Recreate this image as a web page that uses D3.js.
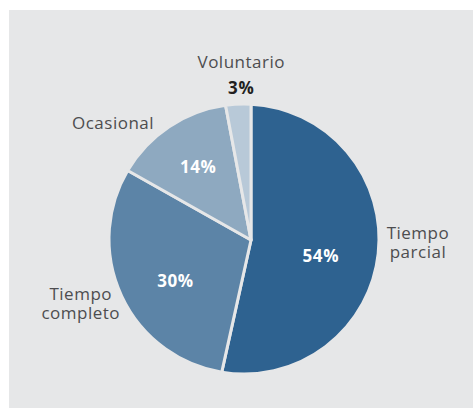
<!DOCTYPE html>
<html><head><meta charset="utf-8">
<script src="https://cdn.jsdelivr.net/npm/d3@7"></script>
<style>
html,body{margin:0;padding:0;background:#fff;}
svg{display:block;}
</style></head>
<body>
<svg id="chart" width="473" height="408"></svg>
<script>
const categories = ["Tiempo parcial", "Tiempo completo", "Ocasional", "Voluntario"];
const labelLines = [["Tiempo", "parcial"], ["Tiempo", "completo"], ["Ocasional"], ["Voluntario"]];
const values = [54, 30, 14, 3];
const valueLabels = ["54%", "30%", "14%", "3%"];
const colors = ["#2e6290", "#5c84a7", "#8ea9c0", "#b8c9d8"];

const svg = d3.select("#chart");
svg.append("rect").attr("x", 9).attr("y", 10).attr("width", 464).attr("height", 398).attr("fill", "#e6e7e8");

// apex where slices meet, and the outline circle (slightly offset from apex, as in the original)
const ax = 251, ay = 240, r = 135;
const off = [-7, -1];
const g = svg.append("g").attr("transform", `translate(${ax},${ay})`);

const pie = d3.pie().sort(null).value(d => d);
const arcs = pie(values);

function rayPoint(theta) {
  const ux = Math.sin(theta), uy = -Math.cos(theta);
  const dx = -off[0], dy = -off[1];
  const b = dx * ux + dy * uy;
  const c = dx * dx + dy * dy - r * r;
  const t = -b + Math.sqrt(b * b - c);
  return [ux * t, uy * t];
}
function slicePath(d) {
  const p1 = rayPoint(d.startAngle), p2 = rayPoint(d.endAngle);
  const a1 = Math.atan2(p1[1] - off[1], p1[0] - off[0]);
  const a2 = Math.atan2(p2[1] - off[1], p2[0] - off[0]);
  let delta = a2 - a1;
  while (delta < 0) delta += 2 * Math.PI;
  const large = delta > Math.PI ? 1 : 0;
  const p = d3.path();
  p.moveTo(0, 0);
  p.lineTo(p1[0], p1[1]);
  return p.toString() + `A${r},${r} 0 ${large} 1 ${p2[0]},${p2[1]}Z`;
}

g.selectAll("path").data(arcs).join("path")
  .attr("d", slicePath)
  .attr("fill", (d, i) => colors[i])
  .attr("stroke", "#e6e7e8")
  .attr("stroke-width", 3)
  .attr("stroke-linejoin", "round");

const font = "'Open Sans', 'Noto Sans', sans-serif";

// inner percentage labels (white) positioned via arc centroid at a label radius
const innerR = [0.55, 0.58, 0.62];
const innerNudge = [[-4, 8], [-4, 9], [-4, -5]];
arcs.slice(0, 3).forEach((d, i) => {
  const a = d3.arc().innerRadius(r * innerR[i]).outerRadius(r * innerR[i]);
  const [x, y] = a.centroid(d);
  g.append("text").attr("x", x + innerNudge[i][0]).attr("y", y + innerNudge[i][1]).attr("dy", "0.35em")
    .attr("text-anchor", "middle").attr("fill", "#fff")
    .attr("font-family", font).attr("font-weight", 700).attr("font-size", 17)
    .attr("letter-spacing", 0.6)
    .text(valueLabels[i]);
});

// outer category labels
const outerR = [r + 40, r + 46, r + 52, r + 45];
const nudge = [[-7, -16], [-5, -10], [-29, 35], [7, 1]];
arcs.forEach((d, i) => {
  const mid = (d.startAngle + d.endAngle) / 2;
  const x = Math.sin(mid) * outerR[i] + nudge[i][0];
  const y = -Math.cos(mid) * outerR[i] + nudge[i][1];
  const lines = labelLines[i];
  const t = g.append("text").attr("text-anchor", "middle").attr("fill", "#4d4d4f")
    .attr("font-family", font).attr("font-weight", 400).attr("font-size", 17)
    .attr("letter-spacing", 0.5);
  lines.forEach((ln, k) => {
    t.append("tspan").attr("x", x).attr("y", y + (k - (lines.length - 1) / 2) * 19).attr("dy", "0.35em").text(ln);
  });
  if (i === 3) {
    g.append("text").attr("x", x).attr("y", y + 26).attr("dy", "0.35em")
      .attr("text-anchor", "middle").attr("fill", "#231f20")
      .attr("font-family", font).attr("font-weight", 700).attr("font-size", 17)
      .attr("letter-spacing", 0.6)
      .text(valueLabels[i]);
  }
});
</script>
</body></html>
